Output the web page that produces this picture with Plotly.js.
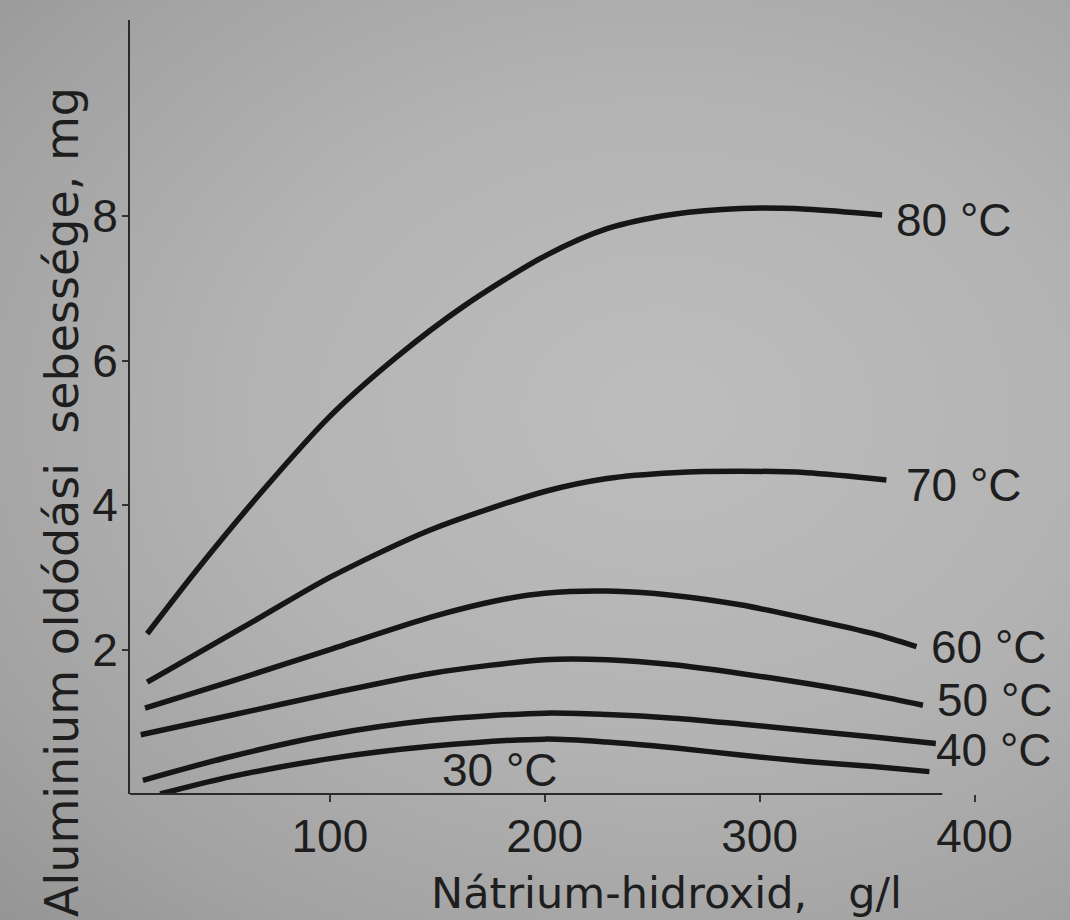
<!DOCTYPE html>
<html>
<head>
<meta charset="utf-8">
<script src="https://cdn.plot.ly/plotly-3.0.1.min.js"></script>
<style>
  html, body { margin: 0; padding: 0; }
  #chart {
    width: 1070px; height: 920px;
    background: radial-gradient(ellipse at 62% 45%, #bdbdbd 0%, #b3b3b3 45%, #a2a2a2 80%, #959595 100%);
  }
</style>
</head>
<body>
<div id="chart"></div>
<script>
// NaOH concentration (g/l) and Al dissolution rate (mg) per temperature
const x80 = [15, 38, 69, 100, 131, 162, 200, 229, 260, 291, 322, 357];
const y80 = [2.22, 3.10, 4.21, 5.23, 6.05, 6.75, 7.45, 7.83, 8.03, 8.11, 8.10, 8.02];

const x70 = [15, 38, 69, 100, 147, 200, 229, 260, 291, 322, 359];
const y70 = [1.55, 1.94, 2.47, 3.00, 3.66, 4.19, 4.37, 4.45, 4.47, 4.45, 4.35];

const x60 = [14, 54, 100, 147, 178, 200, 229, 260, 291, 322, 353, 373];
const y60 = [1.19, 1.56, 2.00, 2.45, 2.68, 2.78, 2.81, 2.75, 2.62, 2.43, 2.22, 2.04];

const x50 = [12, 54, 100, 147, 200, 229, 260, 291, 322, 353, 376];
const y50 = [0.82, 1.09, 1.39, 1.67, 1.86, 1.86, 1.79, 1.67, 1.53, 1.37, 1.23];

const x40 = [13, 54, 100, 147, 200, 229, 260, 291, 322, 353, 382];
const y40 = [0.19, 0.52, 0.82, 1.02, 1.12, 1.10, 1.05, 0.97, 0.88, 0.79, 0.70];

const x30 = [21, 54, 100, 147, 200, 229, 260, 291, 322, 353, 379];
const y30 = [0.00, 0.24, 0.49, 0.66, 0.76, 0.72, 0.64, 0.54, 0.45, 0.38, 0.31];

const seriesNames = ["80 °C", "70 °C", "60 °C", "50 °C", "40 °C", "30 °C"];
const xTicks = [100, 200, 300, 400];
const yTicks = [2, 4, 6, 8];
const xTitle = "Nátrium-hidroxid,&nbsp;&nbsp;&nbsp;g/l";
const yTitle = "Aluminium oldódási&nbsp;&nbsp;sebessége, mg";

const xs = [x80, x70, x60, x50, x40, x30];
const ys = [y80, y70, y60, y50, y40, y30];

const ink = "#161616";
const txtFont = { family: "Liberation Sans, Arial, sans-serif", size: 46, color: "#1e1e1e" };
const titleFont = { family: "DejaVu Sans, sans-serif", size: 46, color: "#1e1e1e" };

const traces = xs.map((x, i) => ({
  type: "scatter", mode: "lines", name: seriesNames[i],
  x: x, y: ys[i],
  line: { color: ink, width: 5.5, shape: "spline", smoothing: 0.8 },
  hoverinfo: "skip", showlegend: false
}));

// label offsets (pixels) relative to each curve's end
const labelShift = [[12, -5], [18, -5], [13, 0], [12, 5], [-2, -7]];
const annotations = [];
for (let i = 0; i < 5; i++) {
  const n = xs[i].length - 1;
  annotations.push({
    x: xs[i][n], y: ys[i][n], xref: "x", yref: "y",
    text: seriesNames[i], showarrow: false,
    xanchor: "left", yanchor: "middle",
    xshift: labelShift[i][0], yshift: labelShift[i][1],
    font: txtFont
  });
}
// 30 °C label sits inside the plot under its curve
annotations.push({
  x: 179, y: 0.33, xref: "x", yref: "y", text: seriesNames[5],
  showarrow: false, xanchor: "center", yanchor: "middle", font: txtFont
});
// axis titles
annotations.push({
  x: 0.619, y: -0.128, xref: "paper", yref: "paper", text: xTitle,
  showarrow: false, xanchor: "center", yanchor: "middle",
  font: Object.assign({}, titleFont, { size: 43 })
});
annotations.push({
  x: -0.078, y: 0.378, xref: "paper", yref: "paper", text: yTitle,
  showarrow: false, textangle: -90, xanchor: "center", yanchor: "middle", font: titleFont
});

const layout = {
  width: 1070, height: 920,
  margin: { l: 130, r: 74, t: 20, b: 126 },
  paper_bgcolor: "rgba(0,0,0,0)",
  plot_bgcolor: "rgba(0,0,0,0)",
  showlegend: false,
  xaxis: {
    range: [7, 410], tickvals: xTicks, ticktext: xTicks.map(String),
    showgrid: false, zeroline: false, showline: false,
    ticks: "outside", ticklen: 7, tickwidth: 2, tickcolor: "#333",
    ticklabelstandoff: -5,
    tickfont: txtFont
  },
  yaxis: {
    range: [0, 10.72], tickvals: yTicks, ticktext: yTicks.map(String),
    showgrid: false, zeroline: false,
    showline: true, linecolor: "#2a2a2a", linewidth: 2,
    ticks: "outside", ticklen: 6, tickwidth: 2, tickcolor: "#333",
    ticklabelstandoff: -5,
    tickfont: txtFont
  },
  shapes: [{
    type: "line", xref: "x", yref: "paper", x0: 7, x1: 385, y0: 0, y1: 0,
    line: { color: "#2a2a2a", width: 2 }
  }],
  annotations: annotations
};

Plotly.newPlot("chart", traces, layout, { displayModeBar: false, staticPlot: true });
</script>
</body>
</html>
